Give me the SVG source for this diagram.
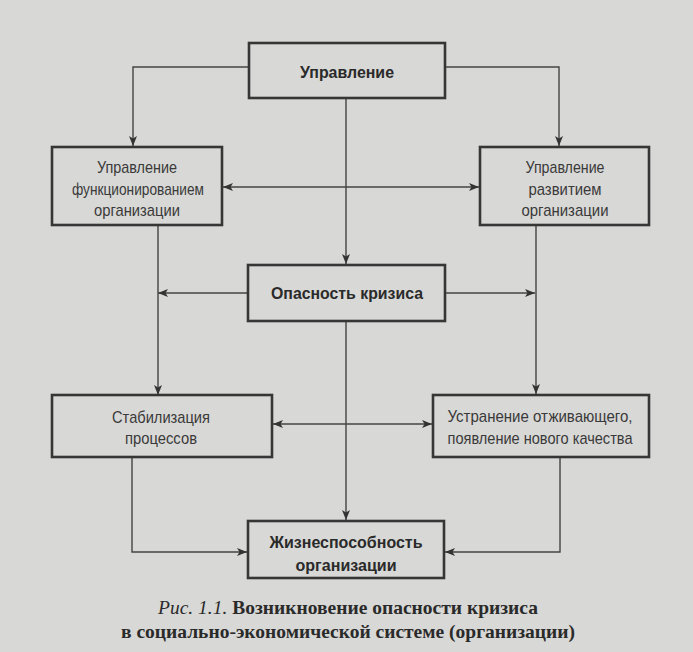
<svg xmlns="http://www.w3.org/2000/svg" width="693" height="652" viewBox="0 0 693 652">
<defs>
<style>
.bg{fill:#d8d8d6}
.box{fill:#d8d8d6;stroke:#363636;stroke-width:2.6}
.t{font-family:"Liberation Sans",Arial,sans-serif;font-size:17px;fill:#3a3a3a;text-anchor:middle}
.b{font-weight:bold;fill:#2a2a2a}
.c{fill:none;stroke:#444;stroke-width:1.4}
.cap{font-family:"Liberation Serif","Times New Roman",serif;font-size:19px;fill:#2a2a2a}
</style>
<marker id="ah" viewBox="0 0 10 8" refX="10" refY="4" markerWidth="10" markerHeight="8" markerUnits="userSpaceOnUse" orient="auto-start-reverse">
<path d="M0,0 L10,4 L0,8 L2.5,4 Z" fill="#333"/>
</marker>
</defs>
<rect class="bg" x="0" y="0" width="693" height="652"/>
<g id="connectors">
<path class="c" d="M249,67 H133 V146" marker-end="url(#ah)"/>
<path class="c" d="M445,67 H559 V146" marker-end="url(#ah)"/>
<path class="c" d="M346,98 V264" marker-end="url(#ah)"/>
<path class="c" d="M223,187 H479" marker-start="url(#ah)" marker-end="url(#ah)"/>
<path class="c" d="M158,225 V395" marker-end="url(#ah)"/>
<path class="c" d="M536,225 V394" marker-end="url(#ah)"/>
<path class="c" d="M248,293 H158" marker-end="url(#ah)"/>
<path class="c" d="M445,293 H535" marker-end="url(#ah)"/>
<path class="c" d="M346,321 V520" marker-end="url(#ah)"/>
<path class="c" d="M273,424 H432" marker-start="url(#ah)" marker-end="url(#ah)"/>
<path class="c" d="M132,458 V552 H247" marker-end="url(#ah)"/>
<path class="c" d="M560,458 V552 H445" marker-end="url(#ah)"/>
</g>
<g id="n1">
<rect class="box" x="249" y="43" width="196" height="55"/>
<text class="t b" x="347" y="78" textLength="94" lengthAdjust="spacingAndGlyphs">Управление</text>
</g>
<g id="n2">
<rect class="box" x="52" y="147" width="170" height="78"/>
<text class="t" x="137" y="173" textLength="80" lengthAdjust="spacingAndGlyphs">Управление</text>
<text class="t" x="138" y="195" textLength="132" lengthAdjust="spacingAndGlyphs">функционированием</text>
<text class="t" x="137" y="216" textLength="86" lengthAdjust="spacingAndGlyphs">организации</text>
</g>
<g id="n3">
<rect class="box" x="480" y="147" width="169" height="78"/>
<text class="t" x="565" y="173" textLength="79" lengthAdjust="spacingAndGlyphs">Управление</text>
<text class="t" x="565" y="195" textLength="73" lengthAdjust="spacingAndGlyphs">развитием</text>
<text class="t" x="565" y="216" textLength="87" lengthAdjust="spacingAndGlyphs">организации</text>
</g>
<g id="n4">
<rect class="box" x="248" y="265" width="197" height="56"/>
<text class="t b" x="347" y="299" textLength="152" lengthAdjust="spacingAndGlyphs">Опасность кризиса</text>
</g>
<g id="n5">
<rect class="box" x="52" y="395" width="220" height="62"/>
<text class="t" x="161" y="423" textLength="98" lengthAdjust="spacingAndGlyphs">Стабилизация</text>
<text class="t" x="161" y="444" textLength="72" lengthAdjust="spacingAndGlyphs">процессов</text>
</g>
<g id="n6">
<rect class="box" x="433" y="395" width="216" height="62"/>
<text class="t" x="540" y="422" textLength="185" lengthAdjust="spacingAndGlyphs">Устранение отживающего,</text>
<text class="t" x="540" y="444" textLength="185" lengthAdjust="spacingAndGlyphs">появление нового качества</text>
</g>
<g id="n7">
<rect class="box" x="248" y="521" width="196" height="57"/>
<text class="t b" x="346" y="548" textLength="153" lengthAdjust="spacingAndGlyphs">Жизнеспособность</text>
<text class="t b" x="346" y="571" textLength="101" lengthAdjust="spacingAndGlyphs">организации</text>
</g>
<g id="caption">
<text class="cap" x="158" y="614" textLength="380" lengthAdjust="spacingAndGlyphs"><tspan font-style="italic">Рис. 1.1.</tspan><tspan font-weight="bold"> Возникновение опасности кризиса</tspan></text>
<text class="cap" x="121" y="638" font-weight="bold" textLength="454" lengthAdjust="spacingAndGlyphs">в социально-экономической системе (организации)</text>
</g>
</svg>
